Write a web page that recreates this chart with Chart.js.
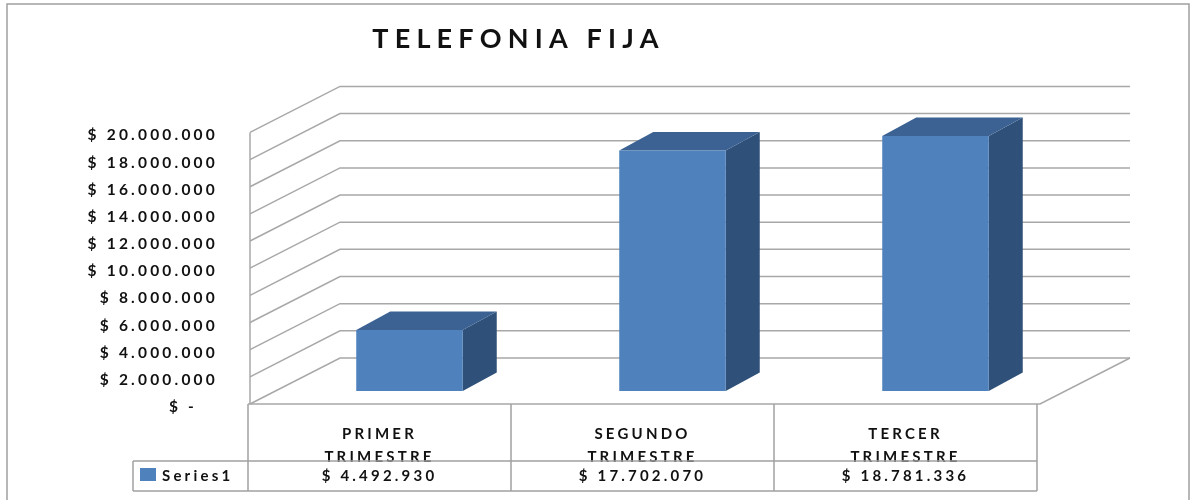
<!DOCTYPE html>
<html>
<head>
<meta charset="utf-8">
<script src="https://cdn.jsdelivr.net/npm/chart.js@4"></script>
<style>html,body{margin:0;padding:0;background:#fff}canvas{display:block}</style>
</head>
<body>
<canvas id="c" width="1193" height="500"></canvas>
<script>
const chartTitle = "TELEFONIA FIJA";
const seriesName = "Series1";
const categories = [["PRIMER","TRIMESTRE"],["SEGUNDO","TRIMESTRE"],["TERCER","TRIMESTRE"]];
const seriesValues = [4492930, 17702070, 18781336];
const seriesText = ["$ 4.492.930","$ 17.702.070","$ 18.781.336"];
const yTickLabels = ["$ -\u00A0\u00A0\u00A0","$ 2.000.000","$ 4.000.000","$ 6.000.000","$ 8.000.000","$ 10.000.000","$ 12.000.000","$ 14.000.000","$ 16.000.000","$ 18.000.000","$ 20.000.000"];

const GRID = "#a8a8a8", FRAME = "#a0a0a0", TEXT = "#111111";
const FRONT = "#4f81bd", SIDE = "#2f5179", TOP = "#3b6292";
const WALL = {dx: 90, dy: 46};
const BAR_SHIFT = {x: 30, y: -13};
const BAR_DEPTH = {dx: 34, dy: 18.5};
const FONT = "Lato, sans-serif";

function line(ctx, pts, color, w) {
  ctx.beginPath();
  pts.forEach((p, i) => i ? ctx.lineTo(p[0], p[1]) : ctx.moveTo(p[0], p[1]));
  ctx.strokeStyle = color; ctx.lineWidth = w; ctx.stroke();
}
function poly(ctx, pts, color) {
  ctx.beginPath();
  pts.forEach((p, i) => i ? ctx.lineTo(p[0], p[1]) : ctx.moveTo(p[0], p[1]));
  ctx.closePath(); ctx.fillStyle = color; ctx.fill();
}

const scene = {
  id: "scene",
  beforeDraw(chart) {
    const ctx = chart.ctx;
    ctx.letterSpacing = "3.2px";
    const t = chart.titleBlock;
    if (t && !t._wrapped) {
      const d = t.draw;
      t.draw = function (a) { ctx.letterSpacing = "6.2px"; d.call(this, a); ctx.letterSpacing = "3.2px"; };
      t._wrapped = true;
    }
    // outer frame
    line(ctx, [[7, 500], [7, 4], [1189, 4], [1189, 500]], FRAME, 1.5);
    // walls and floor
    const y = chart.scales.y, a = chart.chartArea;
    const L = a.left + 2, R = a.right;
    y.ticks.forEach((tk, i) => {
      const p = y.getPixelForTick(i);
      line(ctx, [[L, p], [L + WALL.dx, p - WALL.dy], [R + 93, p - WALL.dy]], GRID, 1.5);
    });
    line(ctx, [[L, a.top], [L, a.bottom]], GRID, 1.5);
    line(ctx, [[a.left, a.bottom], [R + 3, a.bottom], [R + 93, a.bottom - WALL.dy]], GRID, 1.5);
  },
  beforeDatasetsDraw(chart) {
    const ctx = chart.ctx;
    chart.getDatasetMeta(0).data.forEach(b => {
      const l = b.x - b.width / 2 + BAR_SHIFT.x, r = b.x + b.width / 2 + BAR_SHIFT.x;
      const t = b.y + BAR_SHIFT.y, m = b.base + BAR_SHIFT.y;
      poly(ctx, [[r, t], [r + BAR_DEPTH.dx, t - BAR_DEPTH.dy], [r + BAR_DEPTH.dx, m - BAR_DEPTH.dy], [r, m]], SIDE);
      poly(ctx, [[l, t], [l + BAR_DEPTH.dx, t - BAR_DEPTH.dy], [r + BAR_DEPTH.dx, t - BAR_DEPTH.dy], [r, t]], TOP);
    });
    ctx.save();
    ctx.translate(BAR_SHIFT.x, BAR_SHIFT.y);
  },
  afterDatasetsDraw(chart) {
    chart.ctx.restore();
    // data table
    const ctx = chart.ctx, x = chart.scales.x, a = chart.chartArea;
    const rowTop = 461, rowBot = 491, boxL = 133;
    const cols = [a.left];
    categories.forEach((c, i) => cols.push(a.left + (a.right - a.left) * (i + 1) / categories.length));
    cols.forEach(cx => line(ctx, [[cx, a.bottom], [cx, rowBot]], FRAME, 1.5));
    line(ctx, [[boxL, rowTop], [a.right, rowTop]], FRAME, 1.5);
    line(ctx, [[boxL, rowBot], [a.right, rowBot]], FRAME, 1.5);
    line(ctx, [[boxL, rowTop], [boxL, rowBot]], FRAME, 1.5);
    ctx.fillStyle = FRONT; ctx.fillRect(140, 468, 16, 13);
    ctx.fillStyle = TEXT; ctx.font = "bold 15px " + FONT;
    ctx.textBaseline = "middle";
    ctx.textAlign = "left"; ctx.fillText(seriesName, 162, 476);
    ctx.textAlign = "center";
    seriesText.forEach((s, i) => ctx.fillText(s, x.getPixelForTick(i), 476));
  }
};

new Chart(document.getElementById("c"), {
  type: "bar",
  data: {
    labels: categories,
    datasets: [{ label: seriesName, data: seriesValues, backgroundColor: FRONT, borderWidth: 0,
      categoryPercentage: 1, barPercentage: 0.405, clip: false }]
  },
  options: {
    responsive: false, animation: false,
    layout: { padding: { left: 0, right: 156, top: 0, bottom: 0 } },
    plugins: {
      legend: { display: false }, tooltip: { enabled: false },
      title: { display: true, text: chartTitle, color: TEXT,
        font: { family: FONT, size: 27, weight: "bold", lineHeight: 1.2 },
        padding: { top: 23, bottom: 77 } }
    },
    scales: {
      x: {
        grid: { display: false }, border: { display: false },
        ticks: { color: TEXT, font: { family: FONT, size: 15, weight: "bold", lineHeight: 1.53 },
          maxRotation: 0, minRotation: 0, autoSkip: false, padding: 11 },
        afterFit(s) { s.height = 96; }
      },
      y: {
        min: 0, max: 20000000,
        grid: { display: false, drawTicks: false }, border: { display: false },
        ticks: { stepSize: 2000000, color: TEXT, font: { family: FONT, size: 15.5, weight: "bold" },
          padding: 30, labelOffset: 3, callback: (v, i) => yTickLabels[i] },
        afterFit(s) { s.width = 248; }
      }
    }
  },
  plugins: [scene]
});
</script>
</body>
</html>
